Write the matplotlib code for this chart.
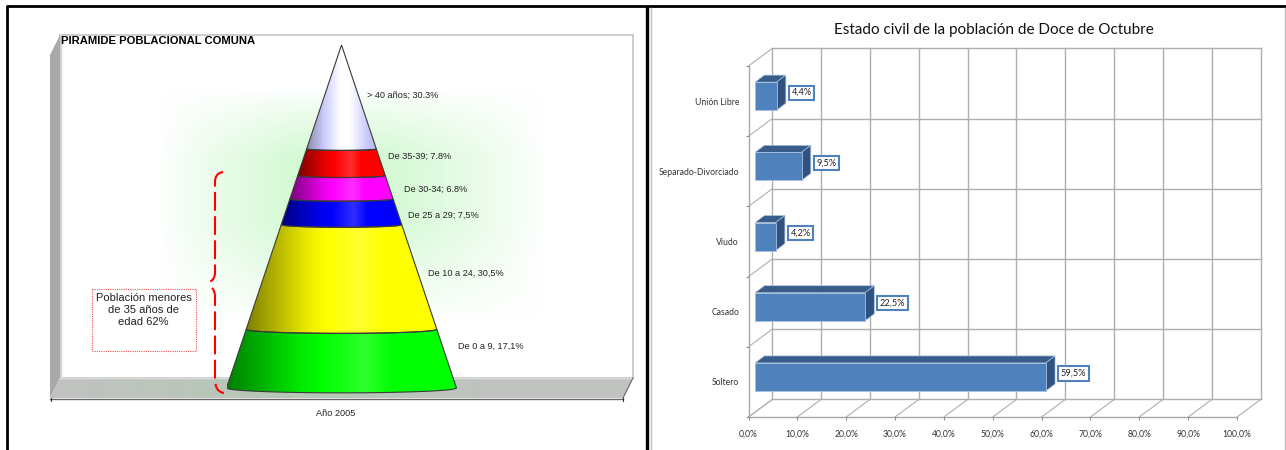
import numpy as np
import matplotlib
matplotlib.use('Agg')
import matplotlib.pyplot as plt
from matplotlib.colors import LinearSegmentedColormap, to_rgb
from matplotlib.patches import Polygon, Rectangle, PathPatch
from matplotlib.path import Path

W, H = 1286, 450

# population pyramid, bottom band first
age_labels = ['De 0 a 9, 17,1%', 'De 10 a 24, 30,5%', 'De 25 a 29; 7,5%',
              'De 30-34; 6.8%', 'De 35-39; 7.8%', '> 40 años; 30.3%']
age_values = [17.1, 30.5, 7.5, 6.8, 7.8, 30.3]
age_colors = ['#00ff00', '#ffff00', '#0000ff', '#ff00ff', '#ff0000', '#ccccff']

# marital status, bottom bar first
civil_labels = ['Soltero', 'Casado', 'Viudo', 'Separado-Divorciado', 'Unión Libre']
civil_values = [59.5, 22.5, 4.2, 9.5, 4.4]
civil_texts = ['59,5%', '22,5%', '4,2%', '9,5%', '4,4%']
pct_ticks = [0, 10, 20, 30, 40, 50, 60, 70, 80, 90, 100]
pct_texts = ['0,0%', '10,0%', '20,0%', '30,0%', '40,0%', '50,0%', '60,0%',
             '70,0%', '80,0%', '90,0%', '100,0%']


def px_axes(fig, x0, y0, x1, y1, **kw):
    """axes from a pixel box, y counted from the top"""
    return fig.add_axes([x0 / W, 1 - y1 / H, (x1 - x0) / W, (y1 - y0) / H], **kw)


def band_cmap(color):
    rgb = np.array(to_rgb(color))
    if color == '#ccccff':
        stops = [(0, rgb * 0.68), (0.25, rgb), (0.48, (1, 1, 1)), (0.62, (1, 1, 1)),
                 (0.85, rgb), (1, rgb * 0.88)]
    else:
        light = rgb + (1 - rgb) * 0.18
        stops = [(0, rgb * 0.5), (0.32, rgb * 0.92), (0.42, rgb), (0.6, light),
                 (0.72, rgb), (1, rgb)]
    return LinearSegmentedColormap.from_list('band', [(t, tuple(c)) for t, c in stops])


fig = plt.figure(figsize=(W / 100, H / 100), dpi=100, facecolor='white')
bg = px_axes(fig, 0, 0, W, H)
bg.set_xlim(0, W)
bg.set_ylim(H, 0)
bg.axis('off')

# frames between the two panels
bg.plot([6, W], [6, 6], color='black', lw=2, solid_capstyle='butt')
bg.plot([7, 7], [6, H], color='black', lw=2, solid_capstyle='butt')
bg.plot([647, 647], [6, H], color='black', lw=2.4, solid_capstyle='butt')
bg.plot([651, 651], [8, H], color='#bdbdbd', lw=1)
bg.plot([1285, 1285], [8, H], color='#bdbdbd', lw=1)

# 3d box of the left chart
bg.add_patch(Polygon([(60, 35), (633, 35), (633, 378), (60, 378)], fc='white', ec='#c4c4c4', lw=1.2))
bg.add_patch(Polygon([(50, 55), (60, 35), (60, 378), (50, 398)], fc='#a8aaa8', ec='none'))
bg.plot([60.5, 60.5], [35, 378], color='#d8d8d8', lw=1)
bg.add_patch(Polygon([(60, 378), (633, 378), (623, 398), (50, 398)], fc='#c0c2c0', ec='none'))
bg.plot([60, 633], [378, 378], color='#dcdcdc', lw=1)
bg.plot([50, 623], [398.5, 398.5], color='#666666', lw=1)
bg.plot([633, 623], [378, 398], color='#666666', lw=0.8)
bg.plot([50.5, 50.5], [398, 401], color='#333333', lw=0.8)
bg.plot([623, 623], [398, 401], color='#333333', lw=0.8)

# soft green glow behind the cone
gx = np.linspace(0, 1, 200)
fx = np.clip(np.minimum(gx / 0.36, (1 - gx) / 0.42), 0, 1)
gy = np.linspace(0, 1, 120)
fy = np.clip(np.minimum(gy / 0.3, (1 - gy) / 0.42), 0, 1)
glow = np.zeros((120, 200, 4))
glow[..., :3] = (0.62, 0.95, 0.62)
glow[..., 3] = np.outer(fy, fx) ** 0.8 * 0.45
bg.imshow(glow, extent=(160, 545, 322, 88), aspect='auto', zorder=1.5, interpolation='bilinear')
floor_glow = np.zeros((2, 200, 4))
floor_glow[..., :3] = (0.62, 0.85, 0.62)
floor_glow[..., 3] = np.clip(np.minimum(gx / 0.6, (1 - gx) / 0.4), 0, 1) * 0.3
bg.imshow(floor_glow, extent=(60, 500, 398, 378), aspect='auto', zorder=1.5)
bg.set_xlim(0, W)
bg.set_ylim(H, 0)

bg.text(61, 41.5, 'PIRAMIDE POBLACIONAL COMUNA', family='Liberation Sans', weight='bold',
        fontsize=8.1, va='center', ha='left', color='black', zorder=5)

# cone, stacked by share of population
cone = px_axes(fig, 226.5, 45, 456.5, 394.9)
cone.patch.set_alpha(0)
cone.axis('off')
tops = np.cumsum(age_values)
bottoms = tops - np.array(age_values)
sag = 1.4
for low, high, color in zip(bottoms, tops, age_colors):
    r0 = 1 - low / tops[-1]
    r1 = max(1 - high / tops[-1], 0)
    t = np.linspace(-1, 1, 81)
    under = low - sag * r0 * np.sqrt(1 - t ** 2)
    over_arc = high - sag * r1 * np.sqrt(1 - t ** 2)
    pts = np.vstack([np.column_stack([r0 * t, under]), np.column_stack([r1 * t[::-1], over_arc[::-1]])])
    shape = Polygon(pts, closed=True, fc='none', ec='#3a3a3a', lw=0.8, zorder=3)
    cone.add_patch(shape)
    grad = cone.imshow(np.linspace(0, 1, 256)[None, :], extent=(-r0, r0, low - sag, high),
                       cmap=band_cmap(color), aspect='auto', zorder=2)
    grad.set_clip_path(shape)
cone.set_xlim(-1, 1)
cone.set_ylim(-2, 100)

# category labels beside the cone
label_xy = [(458, 346), (428, 273), (408, 215), (404, 189), (388, 156), (367, 95)]
over = px_axes(fig, 0, 0, W, H)
over.set_xlim(0, W)
over.set_ylim(H, 0)
over.axis('off')
over.patch.set_alpha(0)
for text, (x, y) in zip(age_labels, label_xy):
    over.text(x, y, text, family='Liberation Sans', fontsize=6.6, color='#222222', va='center', ha='left')
over.text(336, 413.5, 'Año 2005', family='Liberation Sans', fontsize=6.6, color='#222222', ha='center', va='center')

over.add_patch(Rectangle((92, 289), 104, 62, fc='white', ec='#ee5555', lw=0.8, ls=(0, (1, 1))))
over.text(143.5, 310, 'Población menores\nde 35 años de\nedad 62%', family='Liberation Sans', fontsize=8,
          color='#222222', ha='center', va='center', linespacing=1.3)

# dashed red brace
brace = Path([(223, 172), (217, 173), (215, 177), (215, 182), (215, 272), (215, 279), (212, 282), (205, 282.5),
              (212, 288), (214, 290), (215, 293), (215, 297), (215, 378), (215, 388), (218, 392), (224, 393)],
             [Path.MOVETO, Path.CURVE4, Path.CURVE4, Path.CURVE4, Path.LINETO, Path.CURVE4, Path.CURVE4, Path.CURVE4,
              Path.MOVETO, Path.CURVE4, Path.CURVE4, Path.CURVE4, Path.LINETO, Path.CURVE4, Path.CURVE4, Path.CURVE4])
over.add_patch(PathPatch(brace, fc='none', ec='#ff0000', lw=1.5, ls=(0, (9, 2.6))))

# bar chart with fake depth, everything in data units
ax = px_axes(fig, 748.5, 66, 1237, 417)
ax.patch.set_alpha(0)
ax.set_xlim(0, 100)
ax.set_ylim(-0.5, 4.5)
for s in ax.spines.values():
    s.set_visible(False)

back_x, back_y = 4.85, 0.25
grid_c = '#aeaeae'
y_low, y_high = ax.get_ylim()
for v in pct_ticks:
    ax.plot([v + back_x] * 2, [y_low + back_y, y_high + back_y], color=grid_c, lw=1.0, clip_on=False, zorder=1)
    ax.plot([v, v + back_x], [y_low, y_low + back_y], color=grid_c, lw=0.8, clip_on=False, zorder=1)
for edge in np.arange(y_low, y_high + 0.5):
    ax.plot([back_x, 100 + back_x], [edge + back_y] * 2, color=grid_c, lw=1.0, clip_on=False, zorder=1)
    ax.plot([0, back_x], [edge, edge + back_y], color=grid_c, lw=0.8, clip_on=False, zorder=1)
ax.plot([0, 100], [y_low, y_low], color='#a8a8a8', lw=1, clip_on=False, zorder=1)
ax.plot([0, 0], [y_low, y_high], color='#a8a8a8', lw=1, clip_on=False, zorder=1)

ypos = np.arange(len(civil_values))
bar_h = 0.4
start = 1.35
lift = 0.07
depth_x, depth_y = 1.9, 0.1
ax.barh(ypos + lift, civil_values, left=start, height=bar_h, color='#4f81bd', edgecolor='#a9c1de',
        linewidth=0.6, zorder=4)
for y, v, text in zip(ypos, civil_values, civil_texts):
    end = start + v
    b, t = y + lift - bar_h / 2, y + lift + bar_h / 2
    ax.add_patch(Polygon([(start, t), (end, t), (end + depth_x, t + depth_y), (start + depth_x, t + depth_y)],
                         fc='#385d8a', ec='#a9c1de', lw=0.5, zorder=3, clip_on=False))
    ax.add_patch(Polygon([(end, b), (end + depth_x, b + depth_y), (end + depth_x, t + depth_y), (end, t)],
                         fc='#2f5280', ec='#a9c1de', lw=0.5, zorder=3, clip_on=False))
    ax.annotate(text, (end + depth_x, y + lift + 0.05), xytext=(4, 0), textcoords='offset points',
                family='Lato', fontsize=6.6, color='#222222', va='center', ha='left', zorder=6,
                bbox=dict(boxstyle='square,pad=0.28', fc='white', ec='#4f81bd', lw=1.5))

ax.set_xticks(pct_ticks)
ax.set_xticklabels(pct_texts, family='Lato', fontsize=6.2, color='#333333')
ax.set_yticks(ypos)
ax.set_yticklabels(civil_labels, family='Lato', fontsize=6.2, color='#333333')
ax.set_yticks(np.arange(y_low, y_high + 0.5), minor=True)
ax.tick_params(axis='y', which='major', length=0, pad=6.8)
ax.tick_params(axis='y', which='minor', length=2, color='#888888', width=0.7)
ax.tick_params(axis='x', length=2, color='#888888', width=0.7, pad=7)

fig.text(994 / W, 1 - 30 / H, 'Estado civil de la población de Doce de Octubre', family='Lato', fontsize=11,
         color='#111111', ha='center', va='center')

fig.savefig('out.png', dpi=100)
